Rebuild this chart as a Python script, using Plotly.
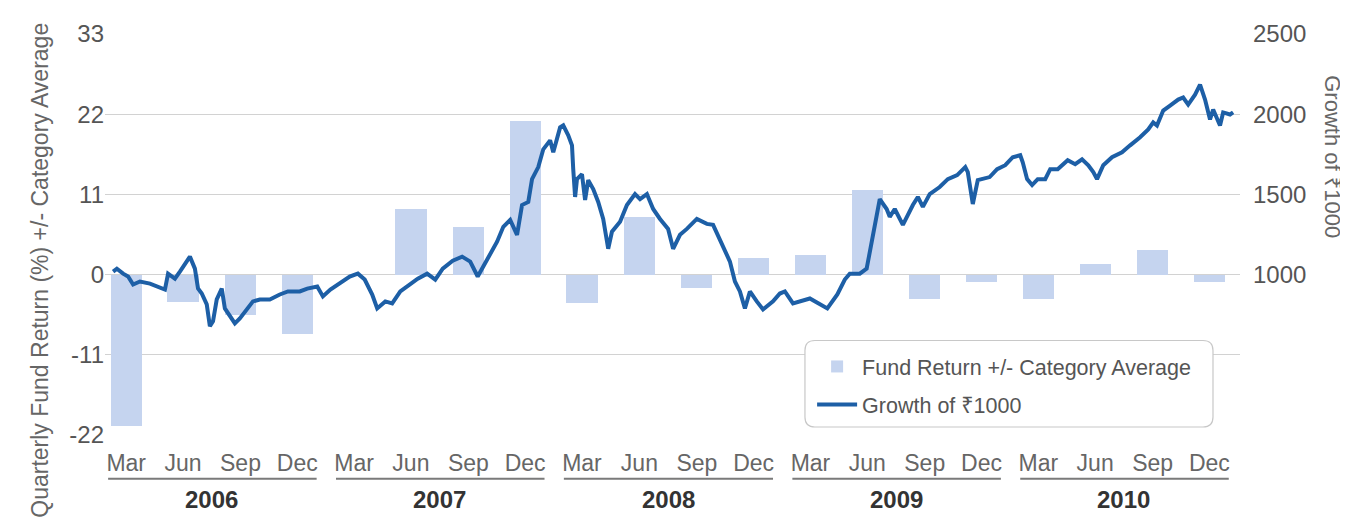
import plotly.graph_objects as go

# ---------------- data ----------------
years = [2006, 2007, 2008, 2009, 2010]
quarter_months = ["Mar", "Jun", "Sep", "Dec"]
quarter_mid = ["02-14", "05-16", "08-16", "11-15"]

# Quarterly fund return +/- category average (%)
excess_return = [-20.7, -3.7, -5.5, -8.2,
                 0.0, 9.0, 6.5, 21.1,
                 -3.9, 7.9, -1.9, 2.3,
                 2.7, 11.6, -3.3, -1.0,
                 -3.3, 1.5, 3.4, -1.0]

# Growth of 1000
growth_dates = [
    "2006-01-24", "2006-01-30", "2006-02-09", "2006-02-17", "2006-02-25", "2006-03-08", "2006-03-24",
    "2006-04-05", "2006-04-17", "2006-04-22", "2006-05-03", "2006-05-11", "2006-05-19", "2006-05-27",
    "2006-06-04", "2006-06-09", "2006-06-15", "2006-06-23", "2006-06-28", "2006-07-03", "2006-07-09",
    "2006-07-17", "2006-07-22", "2006-07-30", "2006-08-07", "2006-08-15", "2006-08-26", "2006-09-05",
    "2006-09-16", "2006-10-02", "2006-10-18", "2006-10-31", "2006-11-19", "2006-12-01", "2006-12-17",
    "2006-12-26", "2007-01-07", "2007-01-22", "2007-02-07", "2007-02-20", "2007-03-03", "2007-03-15",
    "2007-03-23", "2007-04-05", "2007-04-16", "2007-04-29", "2007-05-15", "2007-05-27", "2007-06-11",
    "2007-06-24", "2007-07-06", "2007-07-22", "2007-08-06", "2007-08-19", "2007-08-31", "2007-09-15",
    "2007-10-01", "2007-10-11", "2007-10-22", "2007-11-02", "2007-11-10", "2007-11-20", "2007-11-26",
    "2007-12-06", "2007-12-14", "2007-12-25", "2007-12-30", "2008-01-10", "2008-01-15", "2008-01-23",
    "2008-01-29", "2008-01-31", "2008-02-03", "2008-02-06", "2008-02-14", "2008-02-19", "2008-02-24",
    "2008-03-03", "2008-03-11", "2008-03-19", "2008-03-27", "2008-04-02", "2008-04-15", "2008-04-26",
    "2008-05-09", "2008-05-17", "2008-05-28", "2008-06-07", "2008-06-18", "2008-07-01", "2008-07-09",
    "2008-07-20", "2008-07-31", "2008-08-16", "2008-09-01", "2008-09-11", "2008-09-25", "2008-10-08",
    "2008-10-16", "2008-10-24", "2008-11-01", "2008-11-09", "2008-11-20", "2008-11-30", "2008-12-16",
    "2008-12-27", "2009-01-04", "2009-01-17", "2009-02-13", "2009-03-13", "2009-03-29", "2009-04-10",
    "2009-04-18", "2009-05-04", "2009-05-15", "2009-05-23", "2009-05-28", "2009-06-05", "2009-06-16",
    "2009-06-21", "2009-06-29", "2009-07-12", "2009-07-28", "2009-08-05", "2009-08-13", "2009-08-24",
    "2009-09-09", "2009-09-22", "2009-10-07", "2009-10-20", "2009-10-24", "2009-11-01", "2009-11-09",
    "2009-11-28", "2009-12-10", "2009-12-23", "2010-01-04", "2010-01-16", "2010-01-20", "2010-01-27",
    "2010-02-04", "2010-02-13", "2010-02-25", "2010-03-05", "2010-03-17", "2010-04-02", "2010-04-14",
    "2010-04-25", "2010-05-05", "2010-05-13", "2010-05-19", "2010-05-29", "2010-06-12", "2010-06-28",
    "2010-07-11", "2010-07-27", "2010-08-09", "2010-08-17", "2010-08-23", "2010-09-02", "2010-09-13",
    "2010-09-26", "2010-10-04", "2010-10-12", "2010-10-23", "2010-10-31", "2010-11-08", "2010-11-16",
    "2010-11-21", "2010-12-02", "2010-12-07", "2010-12-18", "2010-12-23",
]
growth_values = [
    1019, 1037, 1006, 988, 938, 957, 944,
    926, 907, 1006, 975, 1019, 1062, 1112,
    1037, 913, 882, 814, 678, 709, 845,
    913, 789, 740, 696, 727, 783, 833,
    845, 845, 876, 895, 895, 913, 926,
    864, 907, 944, 988, 1006, 969, 876,
    789, 833, 820, 895, 938, 975, 1006,
    969, 1037, 1087, 1112, 1081, 988, 1099,
    1205, 1298, 1341, 1248, 1434, 1453, 1595,
    1670, 1781, 1837, 1763, 1918, 1930, 1868,
    1806, 1657, 1484, 1595, 1626, 1465, 1589,
    1533, 1453, 1347, 1161, 1267, 1329, 1434,
    1502, 1471, 1502, 1409, 1347, 1285, 1161,
    1248, 1285, 1347, 1316, 1310, 1186, 1081,
    957, 895, 789, 895, 833, 783, 833,
    882, 895, 820, 851, 789, 876, 969,
    1006, 1006, 1037, 1205, 1329, 1471, 1409,
    1360, 1409, 1310, 1434, 1484, 1422, 1502,
    1546, 1595, 1620, 1670, 1639, 1440, 1589,
    1608, 1657, 1682, 1732, 1744, 1700, 1595,
    1558, 1595, 1595, 1657, 1657, 1713, 1688,
    1719, 1682, 1639, 1595, 1682, 1732, 1763,
    1806, 1856, 1905, 1949, 1930, 2023, 2054,
    2091, 2104, 2060, 2122, 2184, 2091, 1967,
    2029, 1930, 2011, 1998, 2011,
]

left_ticks = [-22, -11, 0, 11, 22, 33]
right_ticks = [1000, 1500, 2000, 2500]

# ---------------- derived ----------------
bar_x = [f"{y}-{md}" for y in years for md in quarter_mid]
bar_labels = [m for y in years for m in quarter_months]
left_tick_text = [str(v) for v in left_ticks]   # plain hyphen minus
DAY_MS = 86400000

FONT = "Liberation Sans, Arial, Noto Sans, DejaVu Sans"
BAR_COLOR = "#c5d4ef"
LINE_COLOR = "#1d5fa6"
GRID = "#d2d2d2"

fig = go.Figure()
fig.add_trace(go.Bar(
    x=bar_x, y=excess_return, width=50 * DAY_MS,
    marker=dict(color=BAR_COLOR, line=dict(width=0)),
    name="Fund Return +/- Category Average",
    legendgroup="a", yaxis="y",
))
fig.add_trace(go.Scatter(
    x=growth_dates, y=growth_values, mode="lines",
    line=dict(color=LINE_COLOR, width=4),
    name="Growth of \u20b91000",
    legendgroup="b", yaxis="y2",
))

# year underline + labels
shapes = []
annotations = []
for y in years:
    shapes.append(dict(type="line", xref="x", yref="paper",
                       x0=f"{y}-01-16", x1=f"{y}-12-16", y0=-0.109, y1=-0.109,
                       line=dict(color="#7a7a7a", width=2)))
    annotations.append(dict(x=f"{y}-07-01", y=-0.161, xref="x", yref="paper",
                            xanchor="center", yanchor="middle",
                            text=f"<b>{y}</b>", showarrow=False,
                            font=dict(size=24, color="#333333", family=FONT)))

# legend rounded box (paper coords)
x0, x1, y0, y1 = 0.6167, 0.9762, 0.0199, 0.2357
rx, ry = 0.0088, 0.0248
path = (f"M{x0+rx},{y1} L{x1-rx},{y1} Q{x1},{y1} {x1},{y1-ry} "
        f"L{x1},{y0+ry} Q{x1},{y0} {x1-rx},{y0} L{x0+rx},{y0} "
        f"Q{x0},{y0} {x0},{y0+ry} L{x0},{y1-ry} Q{x0},{y1} {x0+rx},{y1} Z")
shapes.append(dict(type="path", path=path, xref="paper", yref="paper",
                   fillcolor="white", line=dict(color="#c8c8c8", width=1.2),
                   layer="above"))

annotations.append(dict(x=-0.0573, y=0.412, xref="paper", yref="paper",
                        xanchor="center", yanchor="middle",
                        text="Quarterly Fund Return (%) +/- Category Average",
                        textangle=-90, showarrow=False,
                        font=dict(size=23, color="#666666", family=FONT)))
annotations.append(dict(x=1.082, y=0.695, xref="paper", yref="paper",
                        xanchor="center", yanchor="middle",
                        text="Growth of \u20b91000",
                        textangle=90, showarrow=False,
                        font=dict(size=22, color="#666666", family=FONT)))

fig.update_layout(
    width=1340, height=512,
    margin=dict(l=97, r=108, t=24, b=85),
    paper_bgcolor="white", plot_bgcolor="white",
    font=dict(family=FONT, color="#555555"),
    showlegend=True,
    legend=dict(x=0.623, y=0.222, xanchor="left", yanchor="top",
                bgcolor="rgba(0,0,0,0)", borderwidth=0,
                font=dict(size=21.5, color="#555555", family=FONT),
                traceorder="grouped", tracegroupgap=7, itemwidth=40),
    xaxis=dict(type="date", range=["2006-01-11", "2011-01-03"],
               tickmode="array", tickvals=bar_x, ticktext=bar_labels,
               showgrid=False, zeroline=False, showline=False, ticks="",
               ticklabelstandoff=12,
               tickfont=dict(size=23, color="#666666", family=FONT)),
    yaxis=dict(range=[-22, 33], tickmode="array", tickvals=left_ticks,
               ticktext=left_tick_text,
               showgrid=True, gridcolor=GRID, gridwidth=1,
               zeroline=True, zerolinecolor=GRID, zerolinewidth=1,
               showline=False, ticks="",
               tickfont=dict(size=24, color="#555555", family=FONT)),
    yaxis2=dict(range=[0, 2500], overlaying="y", side="right",
                tickmode="array", tickvals=right_ticks,
                showgrid=False, zeroline=False, showline=False, ticks="",
                ticklabelstandoff=12,
                tickfont=dict(size=24, color="#555555", family=FONT)),
    shapes=shapes, annotations=annotations,
    bargap=0,
)

fig.write_html("out.html")
